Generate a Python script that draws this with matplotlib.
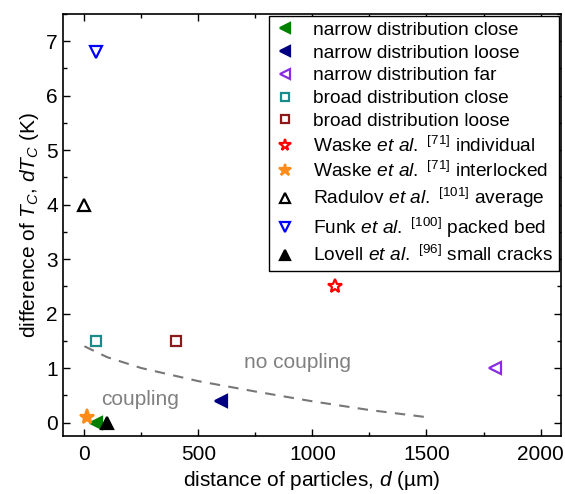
import numpy as np
import matplotlib.pyplot as plt
import matplotlib
from matplotlib.ticker import MultipleLocator

matplotlib.rc('font', family='Liberation Sans', size=15)
matplotlib.rc('mathtext', fontset='custom', rm='Liberation Sans',
              it='Liberation Sans:italic', bf='Liberation Sans:bold')

# dados de cada serie: (x, y)
labels = ['narrow distribution close',
          'narrow distribution loose',
          'narrow distribution far',
          'broad distribution close',
          'broad distribution loose',
          r'Waske $\it{et\ al.}$ $^{[71]}$ individual',
          r'Waske $\it{et\ al.}$ $^{[71]}$ interlocked',
          r'Radulov $\it{et\ al.}$ $^{[101]}$ average',
          r'Funk $\it{et\ al.}$ $^{[100]}$ packed bed',
          r'Lovell $\it{et\ al.}$ $^{[96]}$ small cracks']
xs = [50, 600, 1800, 50, 400, 1100, 10, 0, 50, 100]
ys = [0, 0.4, 1.0, 1.5, 1.5, 2.5, 0.1, 4.0, 6.8, 0.0]

# curva tracejada (limite de acoplamento)
xcurve = [0, 100, 250, 500, 750, 1000, 1250, 1500]
ycurve = [1.4, 1.2, 1.0, 0.76, 0.57, 0.39, 0.23, 0.1]

# estilos: marcador, cor, preenchido, tamanho
styles = [('<', 'green', True, 9),
          ('<', 'navy', True, 9),
          ('<', '#8a2be2', False, 9),
          ('s', '#1a8a8a', False, 6.5),
          ('s', '#8b1a1a', False, 6.5),
          ('*', 'red', False, 10),
          ('*', '#ff8c1a', True, 11),
          ('^', 'black', False, 8.5),
          ('v', 'blue', False, 8.5),
          ('^', 'black', True, 8.5)]

fig = plt.figure(figsize=(5.65, 4.94), dpi=100)
ax = fig.add_axes([0.111, 0.117, 0.882, 0.855])

for x, y, lab, (m, c, filled, ms) in zip(xs, ys, labels, styles):
    ax.plot([x], [y], linestyle='none', marker=m, markersize=ms,
            markeredgecolor=c, markerfacecolor=c if filled else 'white',
            markeredgewidth=1.6, label=lab, zorder=3)

ax.plot(xcurve, ycurve, '--', color='#777777', linewidth=1.5, dashes=(5, 4), zorder=2)

ax.text(935, 1.1, 'no coupling', color='#808080', fontsize=15, ha='center', va='center')
ax.text(244, 0.42, 'coupling', color='#808080', fontsize=15, ha='center', va='center')

ax.set_xlim(-95, 2090)
ax.set_ylim(-0.25, 7.5)
ax.xaxis.set_major_locator(MultipleLocator(500))
ax.xaxis.set_minor_locator(MultipleLocator(250))
ax.yaxis.set_major_locator(MultipleLocator(1))
ax.yaxis.set_minor_locator(MultipleLocator(0.5))
ax.tick_params(which='both', direction='in', top=True, right=True, width=1)
ax.tick_params(which='major', length=5)
ax.tick_params(which='minor', length=3)
ax.tick_params(axis='x', pad=6)
for s in ax.spines.values():
    s.set_linewidth(1.2)

ax.set_xlabel(r'distance of particles, $d$ (µm)', fontsize=15)
ax.set_ylabel(r'difference of $T_C$, $dT_C$ (K)', fontsize=15)

leg = ax.legend(loc='upper right', fontsize=13.8, fancybox=False, framealpha=1,
                edgecolor='black', handlelength=1.0, handletextpad=1.0,
                labelspacing=0.28, borderaxespad=0.1, borderpad=0.3,
                markerscale=0.85)
leg.get_frame().set_linewidth(1.0)

plt.savefig('out.png', dpi=100)
